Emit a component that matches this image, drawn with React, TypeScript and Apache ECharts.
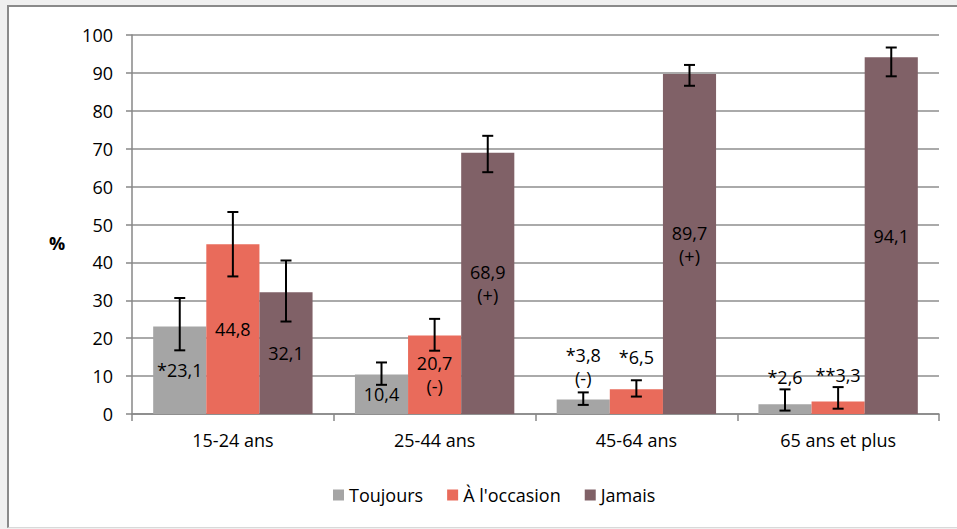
import React, { useEffect, useRef } from "react";
import * as echarts from "echarts";

const categories = ["15-24 ans", "25-44 ans", "45-64 ans", "65 ans et plus"];
const seriesNames = ["Toujours", "À l'occasion", "Jamais"];

const toujours = [23.1, 10.4, 3.8, 2.6];
const occasion = [44.8, 20.7, 6.5, 3.3];
const jamais = [32.1, 68.9, 89.7, 94.1];

const toujoursLow = [16.8, 7.7, 2.4, 0.9];
const toujoursHigh = [30.6, 13.6, 5.7, 6.5];
const occasionLow = [36.3, 16.7, 4.6, 1.4];
const occasionHigh = [53.3, 25.1, 8.9, 7.1];
const jamaisLow = [24.4, 63.8, 86.6, 89.1];
const jamaisHigh = [40.5, 73.4, 92.1, 96.7];

const toujoursLabels = ["*23,1", "10,4", "*3,8\n(-)", "*2,6"];
const occasionLabels = ["44,8", "20,7\n(-)", "*6,5", "**3,3"];
const jamaisLabels = ["32,1", "68,9\n(+)", "89,7\n(+)", "94,1"];

const yMin = 0;
const yMax = 100;
const yInterval = 10;

const colors = ["#a5a5a5", "#e96b5b", "#806167"];
const FONT = "Open Sans";

export default function App() {
  const ref = useRef<HTMLDivElement>(null);

  useEffect(() => {
    if (!ref.current) return;
    const chart = echarts.init(ref.current, null, { renderer: "svg" });

    const values = [toujours, occasion, jamais];
    const lows = [toujoursLow, occasionLow, jamaisLow];
    const highs = [toujoursHigh, occasionHigh, jamaisHigh];
    const labels = [toujoursLabels, occasionLabels, jamaisLabels];
    // label distance above the bar for the small (outside) labels
    const outsideDist: Record<string, number> = {
      "0-2": 10,
      "1-2": 21,
      "0-3": 16,
      "1-3": 15,
    };
    const catGapRatio = 0.21;

    const barSeries = values.map((vals, s) => ({
      name: seriesNames[s],
      type: "bar",
      barGap: "0%",
      barCategoryGap: "21%",
      itemStyle: { color: colors[s] },
      z: 2,
      data: vals.map((v, i) => {
        const key = `${s}-${i}`;
        const outside = outsideDist[key] !== undefined;
        return {
          value: v,
          label: {
            show: true,
            formatter: labels[s][i],
            position: outside ? "top" : "inside",
            distance: outside ? outsideDist[key] : 5,
            color: "#000",
            fontFamily: FONT,
            fontSize: 18,
            lineHeight: 23,
          },
        };
      }),
    }));

    const errSeries = values.map((vals, s) => ({
      name: "err" + s,
      type: "custom",
      z: 5,
      encode: { x: 0, y: [1, 2] },
      data: vals.map((_, i) => [i, lows[s][i], highs[s][i]]),
      renderItem: (params: any, api: any) => {
        const idx = api.value(0);
        const lo = api.value(1);
        const hi = api.value(2);
        const catW = api.size([1, 0])[0];
        const bw = (catW * (1 - catGapRatio)) / 3;
        const cx = api.coord([idx, 0])[0] + (s - 1) * bw;
        const yLo = api.coord([idx, lo])[1];
        const yHi = api.coord([idx, hi])[1];
        const style = { stroke: "#000", lineWidth: 2 };
        const cap = 5.5;
        return {
          type: "group",
          children: [
            { type: "line", shape: { x1: cx, y1: yLo, x2: cx, y2: yHi }, style },
            { type: "line", shape: { x1: cx - cap, y1: yHi, x2: cx + cap, y2: yHi }, style },
            { type: "line", shape: { x1: cx - cap, y1: yLo, x2: cx + cap, y2: yLo }, style },
          ],
        };
      },
    }));

    chart.setOption({
      animation: false,
      textStyle: { fontFamily: FONT },
      grid: { left: 132, right: 18, top: 35, bottom: 115, containLabel: false },
      legend: {
        data: seriesNames,
        left: 328,
        top: 481,
        icon: "rect",
        itemWidth: 11,
        itemHeight: 11,
        itemGap: 24,
        textStyle: { fontFamily: FONT, fontSize: 18, color: "#000", padding: [0, 0, 0, 0] },
      },
      xAxis: {
        type: "category",
        data: categories,
        axisLine: { lineStyle: { color: "#878787", width: 1.5 } },
        axisTick: { show: true, length: 7, lineStyle: { color: "#878787", width: 1.5 } },
        axisLabel: { color: "#000", fontFamily: FONT, fontSize: 18, margin: 17 },
      },
      yAxis: {
        type: "value",
        min: yMin,
        max: yMax,
        interval: yInterval,
        axisLine: { show: true, lineStyle: { color: "#878787", width: 1.5 } },
        axisTick: { show: true, length: 6, lineStyle: { color: "#878787", width: 1.5 } },
        axisLabel: { color: "#000", fontFamily: FONT, fontSize: 18, margin: 19 },
        splitLine: { lineStyle: { color: "#8e8e8e", width: 1.5 } },
      },
      graphic: [
        {
          type: "text",
          x: 57,
          y: 243,
          style: {
            text: "%",
            fontFamily: FONT,
            fontSize: 18,
            fontWeight: "bold",
            fill: "#000",
            align: "center",
            verticalAlign: "middle",
          },
        },
      ],
      series: [...barSeries, ...errSeries],
    });

    return () => chart.dispose();
  }, []);

  return (
    <div style={{ position: "fixed", left: 0, top: 0, width: 957, height: 529, background: "#f0f0f0" }}>
      <div
        style={{
          position: "absolute",
          left: 7,
          top: 5,
          width: 950,
          height: 523,
          background: "#fff",
          borderLeft: "2px solid #8a8a8a",
          borderTop: "2px solid #8a8a8a",
          borderBottom: "1px solid #d9d9d9",
          boxSizing: "border-box",
        }}
      />
      <div ref={ref} style={{ position: "absolute", left: 0, top: 0, width: 957, height: 529 }} />
    </div>
  );
}
